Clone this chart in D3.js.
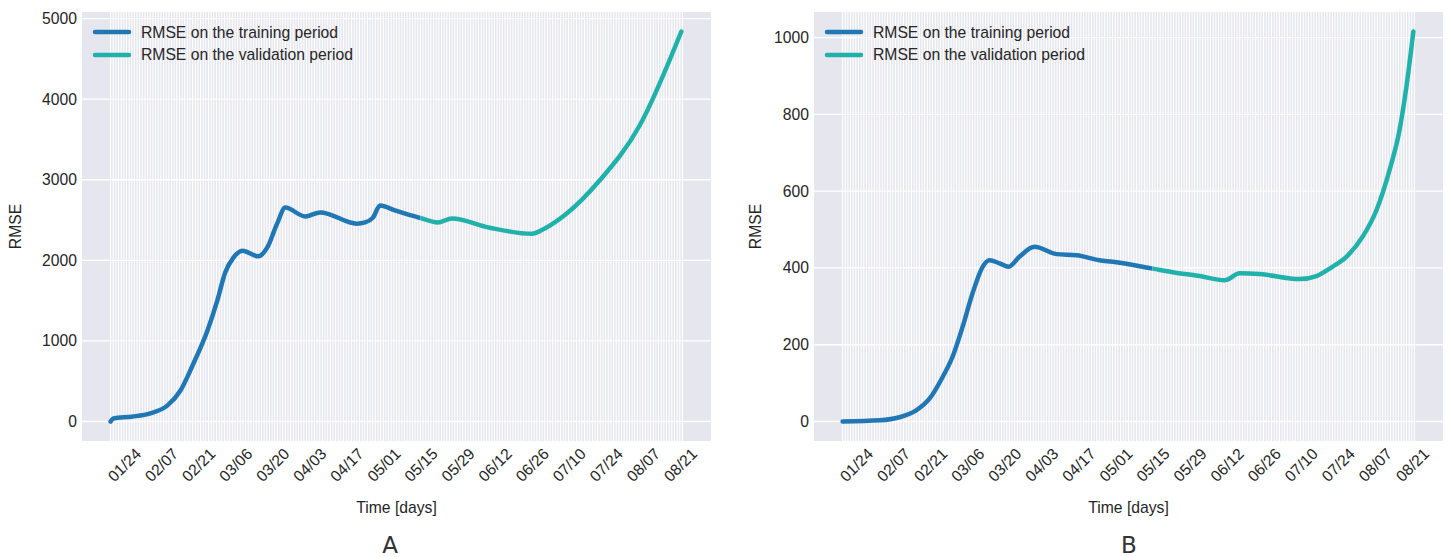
<!DOCTYPE html>
<html>
<head>
<meta charset="utf-8">
<script src="https://cdn.jsdelivr.net/npm/d3@7"></script>
<style>
  body { margin: 0; background: #fff; }
  svg { display: block; font-family: "Liberation Sans", Arial, sans-serif; }
</style>
</head>
<body>
<svg id="chart" width="1451" height="557"></svg>
<script>
// Data: day offsets counted from 2020-01-19
const startDate = new Date(2020, 0, 19)
const lastDay = 216
const splitDay = 117 // 05/15, training -> validation
const tickLabels = ["01/24", "02/07", "02/21", "03/06", "03/20", "04/03", "04/17", "05/01",
  "05/15", "05/29", "06/12", "06/26", "07/10", "07/24", "08/07", "08/21"]

const daysA = [0, 1, 8, 15, 21.5, 26.4, 31.3, 36.6, 40.3, 43.3, 46.4, 49.8, 55.8, 59.2, 62.9, 66, 73.5, 79.2,
  93.1, 96.1, 99.1, 101.8, 107.4, 116.5, 123.6, 128.9, 143.2, 159.1, 164, 172.3, 184.7, 199.8, 215.6]
const rmseA = [0, 37, 60, 100, 200, 385, 720, 1130, 1500, 1850, 2035, 2120, 2050, 2160, 2455, 2655, 2545, 2595,
  2455, 2470, 2530, 2680, 2620, 2530, 2470, 2520, 2405, 2330, 2395, 2580, 2990, 3670, 4840]

const daysB = [0, 14, 21.5, 27.8, 32.9, 37.8, 41.5, 45.3, 49.1, 52.9, 55.5, 59.3, 62.7, 66.8, 72.5, 80.8, 88.4,
  97, 102, 116.7, 124.7, 134.9, 144.3, 150, 157.5, 172.6, 179, 185, 190.3, 196.4, 201.7, 206.6, 210.4, 213, 215.6]
const rmseB = [0, 3, 11, 29, 60, 116, 168, 246, 334, 403, 420, 412, 403, 429, 455, 436, 433,
  420, 416, 399, 389, 379, 368, 386, 384, 371, 379, 403, 429, 481, 551, 655, 760, 873, 1016]

const yTicksA = [0, 1000, 2000, 3000, 4000, 5000]
const yTicksB = [0, 200, 400, 600, 800, 1000]

const seriesNames = ["RMSE on the training period", "RMSE on the validation period"]
const colors = ["#1f77b4", "#20b2aa"]

// Layout
const plotW = 629, plotH = 429, plotTop = 12
const ink = "#262626"
const fontSize = 15.7
const svg = d3.select("#chart")

// matplotlib-like 5% margins around the data extent
function padded([a, b]) {
  const m = (b - a) * 0.05
  return [a - m, b + m]
}

function dayOf(label) {
  const [m, d] = label.split("/").map(Number)
  return d3.timeDay.count(startDate, new Date(2020, m - 1, d))
}

function panel({ id, left, days, rmse, yTicks, letter, letterX, ylabelX }) {
  const x = d3.scaleLinear().domain(padded([0, lastDay])).range([0, plotW])
  const y = d3.scaleLinear().domain(padded(d3.extent(rmse))).range([plotH, 0])
  const g = svg.append("g").attr("transform", `translate(${left},${plotTop})`)

  // Background and grids
  g.append("rect").attr("width", plotW).attr("height", plotH).attr("fill", "#e6e6ee")
  g.append("g")
    .selectAll("line")
    .data(d3.range(0, lastDay + 1))
    .join("line")
    .attr("x1", d => x(d)).attr("x2", d => x(d))
    .attr("y1", 0).attr("y2", plotH)
    .attr("stroke", "#fff").attr("stroke-width", 1.1)
  g.append("g")
    .selectAll("line")
    .data(yTicks)
    .join("line")
    .attr("x1", 0).attr("x2", plotW)
    .attr("y1", d => y(d)).attr("y2", d => y(d))
    .attr("stroke", "#fff").attr("stroke-width", 1.3)

  // Axes
  const yAxis = g.append("g")
    .call(d3.axisLeft(y).tickValues(yTicks).tickFormat(d3.format("d")).tickSize(0).tickPadding(5))
  yAxis.select(".domain").remove()
  yAxis.selectAll("text").attr("fill", ink).attr("font-size", fontSize).attr("font-family", null)

  const xAxis = g.append("g")
    .attr("transform", `translate(0,${plotH})`)
    .call(d3.axisBottom(x).tickValues(tickLabels.map(dayOf)).tickFormat((_, i) => tickLabels[i]).tickSize(0))
  xAxis.select(".domain").remove()
  xAxis.selectAll("text")
    .attr("fill", ink).attr("font-size", fontSize).attr("font-family", null)
    .attr("text-anchor", "end")
    .attr("x", 0).attr("y", 0).attr("dy", "0.35em")
    .attr("transform", "translate(14,10) rotate(-45)")

  // Labels
  g.append("text")
    .attr("x", plotW / 2).attr("y", 501)
    .attr("text-anchor", "middle").attr("fill", ink).attr("font-size", fontSize)
    .text("Time [days]")
  g.append("text")
    .attr("transform", `translate(${ylabelX - left},${plotH / 2}) rotate(-90)`)
    .attr("text-anchor", "middle").attr("dy", "0.35em").attr("fill", ink).attr("font-size", fontSize)
    .text("RMSE")
  svg.append("text")
    .attr("x", letterX).attr("y", 553)
    .attr("text-anchor", "middle").attr("fill", "#333")
    .attr("font-family", "DejaVu Sans").attr("font-size", 23)
    .text(letter)

  // Line split into training / validation via clip paths
  const line = d3.line().x((d, i) => x(days[i])).y(d => y(d)).curve(d3.curveMonotoneX)
  const bounds = [[-10, x(splitDay)], [x(splitDay), plotW + 10]]
  bounds.forEach(([x0, x1], k) => {
    g.append("clipPath").attr("id", `${id}-clip${k}`)
      .append("rect").attr("x", x0).attr("y", -20).attr("width", x1 - x0).attr("height", plotH + 40)
    g.append("path")
      .attr("d", line(rmse))
      .attr("clip-path", `url(#${id}-clip${k})`)
      .attr("fill", "none")
      .attr("stroke", colors[k])
      .attr("stroke-width", 4.5)
      .attr("stroke-linecap", "round")
      .attr("stroke-linejoin", "round")
  })

  // Legend
  const legend = g.append("g").attr("transform", "translate(13,20)")
  seriesNames.forEach((name, i) => {
    legend.append("line")
      .attr("x1", 0).attr("x2", 34).attr("y1", i * 23).attr("y2", i * 23)
      .attr("stroke", colors[i]).attr("stroke-width", 4.5).attr("stroke-linecap", "round")
    legend.append("text")
      .attr("x", 46).attr("y", i * 23).attr("dy", "0.35em")
      .attr("fill", ink).attr("font-size", fontSize)
      .text(name)
  })
}

panel({ id: "A", left: 82, days: daysA, rmse: rmseA, yTicks: yTicksA, letter: "A", letterX: 390, ylabelX: 15 })
panel({ id: "B", left: 814, days: daysB, rmse: rmseB, yTicks: yTicksB, letter: "B", letterX: 1129, ylabelX: 755 })
</script>
</body>
</html>
